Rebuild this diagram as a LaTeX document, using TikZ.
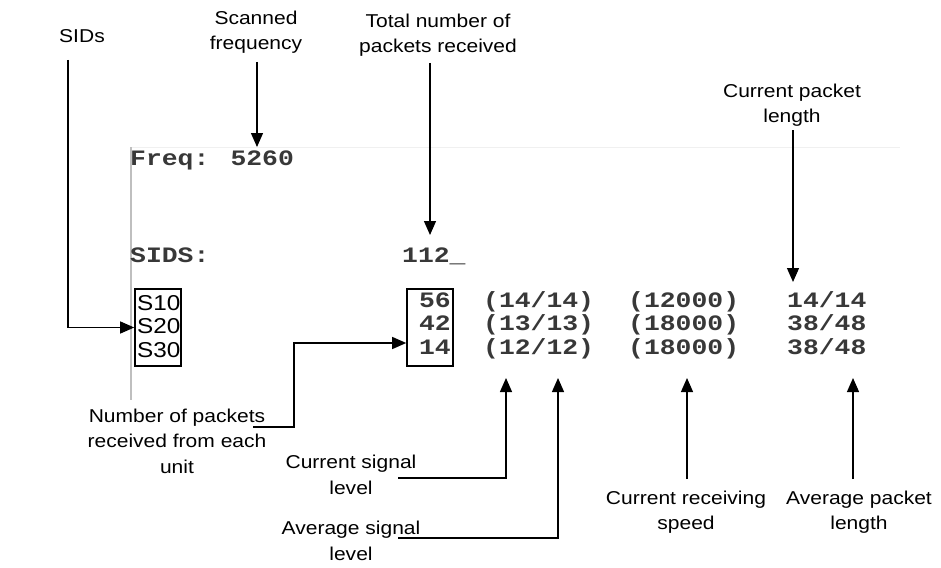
\documentclass[tikz,border=0pt]{standalone}
\usepackage{fontspec}
\setmainfont{Liberation Sans}
\newfontfamily\lab[FakeStretch=1.13]{Liberation Sans}
\newfontfamily\term[FakeStretch=1.2]{Liberation Mono}
\usetikzlibrary{arrows.meta}
\tikzset{
  lbl/.style={inner sep=0pt, align=center, font=\lab\fontsize{18.6}{25.5}\selectfont},
  sid/.style={inner sep=0pt, anchor=base west, font=\lab\fontsize{21.5}{23}\selectfont},
  mono/.style={inner sep=0pt, anchor=base west, text=black!78, font=\term\bfseries\fontsize{22}{23}\selectfont},
  monor/.style={mono, anchor=base east},
  frame/.style={draw=black, line width=1.6pt, minimum width=46pt, minimum height=77pt, inner sep=0pt},
  arr/.style={line width=1.3pt, -{Triangle[length=14pt,width=12pt]}},
}
\begin{document}
\begin{tikzpicture}[x=1pt,y=-1pt]
\useasboundingbox (0,0) rectangle (941,567);
% console borders
\draw[black!6, line width=1pt] (131,147) -- (900,147);
\draw[black!25, line width=1.5pt] (131,147) -- (131,400);
% console text
\node[mono] (freq) at (130,165) {Freq: 5260};
\node[mono] (sidsline) at (130,262) {SIDS:};
\node[mono] (tot) at (402,262) {112\_};
% SID box
\node[frame] (sbox) at (158,327.5) {};
\node[sid] (s1) at (137,310) {S10};
\node[sid] (s2) at (137,333) {S20};
\node[sid] (s3) at (137,357) {S30};
% count box
\node[frame] (cnt) at (430,327.5) {};
\node[monor] (c1) at (451,307) {56};
\node[monor] (c2) at (451,330) {42};
\node[monor] (c3) at (451,354) {14};
% columns
\node[mono] (a1) at (483,307) {(14/14)};
\node[mono] (a2) at (483,330) {(13/13)};
\node[mono] (a3) at (483,354) {(12/12)};
\node[mono] (b1) at (628,307) {(12000)};
\node[mono] (b2) at (628,330) {(18000)};
\node[mono] (b3) at (628,354) {(18000)};
\node[mono] (d1) at (787,307) {14/14};
\node[mono] (d2) at (787,330) {38/48};
\node[mono] (d3) at (787,354) {38/48};
% labels
\node[lbl] (sids) at (82,36) {SIDs};
\node[lbl] (scan) at (256,32) {Scanned\\frequency};
\node[lbl] (total) at (438,35) {Total number of\\packets received};
\node[lbl] (cpl) at (792,105) {Current packet\\length};
\node[lbl] (npk) at (177,441) {Number of packets\\received from each\\unit};
\node[lbl] (csl) at (351,475) {Current signal\\level};
\node[lbl] (asl) at (351,541) {Average signal\\level};
\node[lbl] (crs) at (686,512) {Current receiving\\speed};
\node[lbl] (apl) at (859,512) {Average packet\\length};
% connector end points
\coordinate (sidsst) at (68,60);
\coordinate (scanst) at (257,62);
\coordinate (freqtip) at (257,147);
\coordinate (totst) at (430,63);
\coordinate (tottip) at (430,235);
\coordinate (cplst) at (793,130);
\coordinate (cpltip) at (793,282);
\coordinate (npkst) at (253,427);
\coordinate (cslst) at (398,478);
\coordinate (csltip) at (506,378);
\coordinate (aslst) at (398,538);
\coordinate (asltip) at (558,378);
\coordinate (crsst) at (687,479);
\coordinate (crstip) at (687,378);
\coordinate (aplst) at (853,479);
\coordinate (apltip) at (853,378);
% connectors
\draw[arr] (sidsst) |- (sbox.west);
\draw[arr] (scanst) -- (freqtip);
\draw[arr] (totst) -- (tottip);
\draw[arr] (cplst) -- (cpltip);
\draw[arr] (npkst) -- ++(41,0) |- ([yshift=-15.5pt]cnt.west);
\draw[arr] (cslst) -| (csltip);
\draw[arr] (aslst) -| (asltip);
\draw[arr] (crsst) -- (crstip);
\draw[arr] (aplst) -- (apltip);
\end{tikzpicture}
\end{document}
